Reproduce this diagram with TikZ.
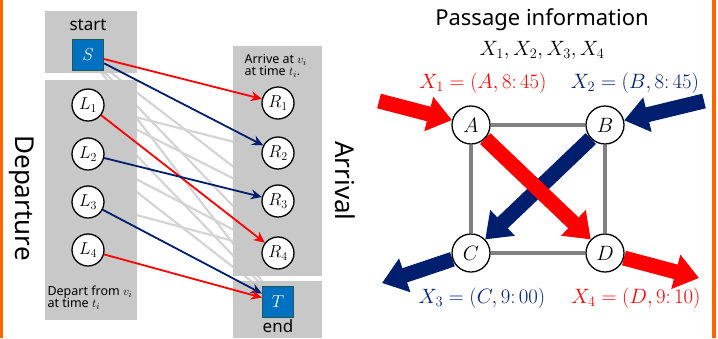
\documentclass[tikz,border=0pt]{standalone}
\usepackage{fontspec}
\setmainfont{Noto Sans}
\usetikzlibrary{arrows.meta}
\definecolor{navy}{RGB}{0,30,110}
\definecolor{myred}{RGB}{255,0,0}
\definecolor{boxgray}{RGB}{200,200,200}
\definecolor{linegray}{RGB}{212,212,212}
\definecolor{sqblue}{RGB}{0,112,192}
\definecolor{sqedge}{RGB}{30,90,80}
\definecolor{myorange}{RGB}{255,102,0}
\definecolor{edgegray}{RGB}{128,128,128}
\pgfdeclarelayer{glines}
\pgfdeclarelayer{boxes}
\pgfdeclarelayer{bigarrows}
\pgfsetlayers{glines,boxes,bigarrows,main}
\begin{document}
\begin{tikzpicture}[x=1pt,y=-1pt,
  circ/.style={circle,draw,line width=1.3pt,fill=white,minimum size=32pt,inner sep=0pt,font=\fontsize{17}{19}\selectfont},
  bigcirc/.style={circle,draw,line width=1.3pt,fill=white,minimum size=38pt,inner sep=0pt,font=\fontsize{21}{23}\selectfont},
  sq/.style={draw=sqedge,fill=sqblue,line width=1.2pt,minimum size=31pt,inner sep=0pt,text=white,font=\fontsize{17}{19}\selectfont},
  gbox/.style={fill=boxgray,draw=none},
  gl/.style={draw=linegray,line width=2.2pt},
  rl/.style={draw=myred,line width=1.8pt,-{Stealth[length=11pt,width=10pt]}},
  bl/.style={draw=navy,line width=1.8pt,-{Stealth[length=11pt,width=10pt]}},
  sqline/.style={draw=edgegray,line width=4pt},
  big/.style={line width=15pt,-{Triangle[length=24pt,width=34pt]}},
  lab/.style={font=\fontsize{12.5}{14}\selectfont,align=left,anchor=west},
  small/.style={font=\fontsize{17}{19}\selectfont},
  side/.style={font=\fontsize{26}{30}\selectfont,rotate=-90},
  mlab/.style={font=\fontsize{21}{24}\selectfont}
]
\useasboundingbox (0,0) rectangle (718,338);
\fill[myorange] (0,0) rectangle (3,338);
\fill[myorange] (712,0) rectangle (716,338);

% boxes
\begin{pgfonlayer}{boxes}
\fill[gbox] (45,11) rectangle (137,73);
\fill[gbox] (45,80) rectangle (137,320);
\fill[gbox] (233,46) rectangle (322,276);
\fill[gbox] (233,281) rectangle (322,338);
\end{pgfonlayer}

% left graph nodes
\node[small] (start) at (88,25) {start};
\node[sq] (S) at (88,55) {$S$};
\node[circ] (L1) at (88,105) {$L_1$};
\node[circ] (L2) at (88,154) {$L_2$};
\node[circ] (L3) at (88,202) {$L_3$};
\node[circ] (L4) at (88,250) {$L_4$};
\node[lab] (dep) at (44,298) {Depart from $v_i$\\[-2pt]at time $t_i$};
\node[lab] (arr) at (241,66) {Arrive at $v_i$\\[-2pt]at time $t_i$.};
\node[circ] (R1) at (278,103) {$R_1$};
\node[circ] (R2) at (278,153) {$R_2$};
\node[circ] (R3) at (278,201) {$R_3$};
\node[circ] (R4) at (278,253) {$R_4$};
\node[sq] (T) at (278,302) {$T$};
\node[small,anchor=base,inner sep=1pt] (end) at (278,332) {end};
\node[side] (departure) at (22,198) {Departure};
\node[side] (arrival) at (345,181) {Arrival};

% gray candidate edges
\begin{pgfonlayer}{glines}
\draw[gl] (S) -- (R3);
\draw[gl] (S) -- (R4);
\draw[gl] (S) -- (T);
\draw[gl] (L1) -- (R2);
\draw[gl] (L1) -- (R3);
\draw[gl] (L1) -- (T);
\draw[gl] (L2) -- (R4);
\draw[gl] (L2) -- (T);
\draw[gl] (L3) -- (R4);
\end{pgfonlayer}

% chosen edges
\draw[rl] (S) -- (R1);
\draw[bl] (S) -- (R2);
\draw[rl] (L1) -- (R4);
\draw[bl] (L2) -- (R3);
\draw[bl] (L3) -- (T);
\draw[rl] (L4) -- (T);

% right: passage information
\node[font=\fontsize{22}{25}\selectfont] (title) at (542,20) {Passage information};
\node[font=\fontsize{20}{23}\selectfont] (xs) at (542,50) {$X_1, X_2, X_3, X_4$};
\node[mlab,text=myred] (x1l) at (483,83) {$X_1 = (A, 8\colon 45)$};
\node[mlab,text=navy] (x2l) at (635,83) {$X_2 = (B, 8\colon 45)$};
\node[mlab,text=navy] (x3l) at (482,298) {$X_3 = (C, 9\colon 00)$};
\node[mlab,text=myred] (x4l) at (636,298) {$X_4 = (D, 9\colon 10)$};

\node[bigcirc] (A) at (471,125) {$A$};
\node[bigcirc] (B) at (605,125) {$B$};
\node[bigcirc] (C) at (471,253) {$C$};
\node[bigcirc] (D) at (605,253) {$D$};

\coordinate (x1s) at (379,101);
\coordinate (x2s) at (704,101);
\coordinate (x3e) at (382,283);
\coordinate (x4e) at (699,278);

\begin{pgfonlayer}{bigarrows}
\draw[sqline] (A) -- (B);
\draw[sqline] (B) -- (D);
\draw[sqline] (D) -- (C);
\draw[sqline] (C) -- (A);
\draw[big,navy] (B) -- (C);
\draw[big,myred] (A) -- (D);
\draw[big,myred] (x1s) -- (A);
\draw[big,navy] (x2s) -- (B);
\draw[big,navy] (C) -- (x3e);
\draw[big,myred] (D) -- (x4e);
\end{pgfonlayer}
\end{tikzpicture}
\end{document}
